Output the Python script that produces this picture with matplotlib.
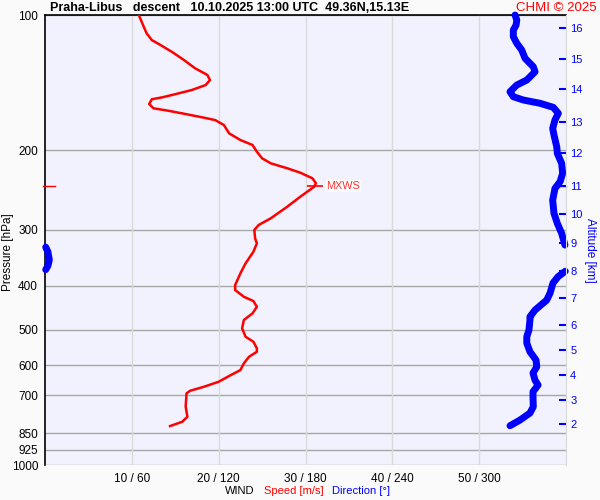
import numpy as np
import matplotlib
matplotlib.use('Agg')
import matplotlib.pyplot as plt
from matplotlib.ticker import NullLocator

plt.rcParams['font.family'] = ['Liberation Sans', 'DejaVu Sans']

# pressure axis ticks
p_ticks = [100, 200, 300, 400, 500, 600, 700, 850, 925, 1000]
p_labels = ['100', '200', '300', '400', '500', '600', '700', '850', '925', '1000']

# wind speed / direction ticks
speed_ticks = [10, 20, 30, 40, 50]
speed_labels = ['10 / 60', '20 / 120', '30 / 180', '40 / 240', '50 / 300']

# altitude (km) at pressure levels of this sounding
alt_km = [2, 3, 4, 5, 6, 7, 8, 9, 10, 11, 12, 13, 14, 15, 16]
alt_p = [810, 718, 631, 555, 489, 426, 371, 321, 277, 240, 203, 173, 146, 125, 107]

# wind speed profile
spd_p = [100, 104.3, 109.8, 113.7, 116.6, 120.7, 125.9, 131.4, 135.9, 139.5,
         143.1, 146.8, 149.3, 152.4, 153.9, 157.7, 161.2, 163.2, 166, 168.8,
         171.2, 175.6, 183.2, 189.6, 194.5, 201.3, 208.2, 213.6, 219.1, 224.1,
         230.6, 236.6, 240.8, 253.4, 266.7, 283, 292.9, 300.5, 313.6, 321.7,
         335.8, 356.3, 375.1, 398.2, 408.5, 422.8, 432.2, 445, 460.3, 476.3,
         497, 518.8, 532.2, 550.5, 560.2, 574.7, 594.5, 615.3, 631.2, 653.2,
         670.1, 684.1, 693.1, 742.3, 781.3, 801.6, 819.4]
spd = [10.8, 11.2, 11.7, 12.3, 13.3, 14.6, 16.0, 17.3, 18.7, 19.0,
       18.5, 16.9, 15.4, 13.5, 12.3, 12.0, 12.5, 14.2, 16.2, 18.1,
       19.6, 20.6, 21.2, 22.5, 23.9, 24.4, 25.0, 26.0, 27.9, 29.4,
       30.8, 31.2, 31.0, 29.4, 27.9, 26.0, 24.6, 24.1, 24.2, 24.4,
       24.0, 23.1, 22.5, 21.9, 21.9, 22.9, 24.0, 24.4, 23.9, 22.9,
       22.7, 23.1, 24.0, 24.4, 24.4, 23.5, 22.9, 22.5, 21.4, 20.0,
       18.3, 16.7, 16.3, 16.2, 16.4, 15.8, 14.4]

# wind direction profile (deg)
dir_p = [100, 102.6, 105.3, 108, 111.7, 115.6, 119.6, 124.8, 130.3, 133.7,
         139.5, 143.1, 148.1, 151.9, 154.5, 157.1, 160.4, 165.4, 171.1, 178.6,
         184.8, 196.2, 203, 213.6, 224.8, 234.7, 242.8, 257.8, 275.9, 290.4,
         305.6, 324.5, 328, 336, 350, 361, 368, 371, 381.6, 394.2,
         414.9, 430, 452.6, 468.3, 476.3, 501.3, 518.7, 535.8, 560.2, 584.5,
         604.9, 624.7, 647.6, 664.3, 687.4, 705, 742.3, 766.6, 794.6, 818]
wdir = [324.8, 326, 325.5, 323.6, 323.6, 326, 329.4, 331.7, 337.4, 338.6,
        332.9, 326, 321.3, 323.6, 330.5, 342, 351.2, 354.7, 352.4, 350.8,
        351.7, 353.6, 354, 357, 357.7, 355.9, 352.4, 350.8, 351.7, 354,
        357, 359.3, 0.5, 2, 3, 2, 0.5, 359.5, 354.5, 351,
        349, 346.7, 338.6, 335.1, 335.1, 334.4, 332.9, 332.9, 335.1, 339.3,
        339.8, 337.2, 338.6, 340.7, 337.2, 337.2, 337.4, 335.1, 328.2, 321.3]

mxws_p = 240
mxws_speed = 31.1

fig = plt.figure(figsize=(6, 5), dpi=100, facecolor='#fafafa')
ax = fig.add_axes([45 / 600, 35 / 500, 521 / 600, 450 / 500])
ax.set_facecolor('#f2f2fe')

ax.set_yscale('log')
ax.set_ylim(1000, 100)
ax.set_xlim(0, 60)
ax.set_yticks(p_ticks)
ax.set_yticklabels(p_labels)
ax.yaxis.set_minor_locator(NullLocator())
ax.set_xticks(speed_ticks)
ax.set_xticklabels(speed_labels)
ax.tick_params(axis='both', length=0, labelsize=8.5)
ax.tick_params(axis='x', pad=6)
ax.tick_params(axis='y', pad=5)

for p in p_ticks:
    ax.axhline(p, color='#a6a6a6', lw=1, zorder=1)
for s in speed_ticks:
    ax.axvline(s, color='#dadada', lw=1, zorder=1)

for side in ['bottom', 'right']:
    ax.spines[side].set_visible(False)
ax.spines['left'].set_color('black')
ax.spines['top'].set_color('black')
ax.spines['left'].set_linewidth(1.2)
ax.spines['top'].set_linewidth(1.2)

# speed
ax.plot(spd, spd_p, color='red', lw=1.8, zorder=4)

# max wind marker
ax.plot([mxws_speed], [mxws_p], marker='_', markersize=11, mew=1.2, color='red', zorder=5)
ax.annotate('MXWS', (mxws_speed, mxws_p), xytext=(8, 0), textcoords='offset points',
            color='#ff3030', fontsize=7.8, va='center', ha='left',
            bbox=dict(facecolor='white', edgecolor='none', pad=0.5))
ax.axhline(mxws_p, xmin=-0.004, xmax=0.02, color='red', lw=1, clip_on=False, zorder=5)
ax.axhline(mxws_p, xmin=0.981, xmax=1.0, color='red', lw=1, clip_on=False, zorder=5)

# direction on its own scale
axd = ax.twiny()
axd.set_xlim(0, 360)
axd.set_ylim(1000, 100)
axd.set_xticks([])
for side in axd.spines:
    axd.spines[side].set_visible(False)
segs = [[0]]
for i in range(1, len(wdir)):
    if abs(wdir[i] - wdir[i - 1]) > 180:
        segs.append([])
    segs[-1].append(i)
for seg in segs:
    axd.plot([wdir[i] for i in seg], [dir_p[i] for i in seg], color='#0000ff', lw=5,
             solid_capstyle='round', solid_joinstyle='round', clip_on=False, zorder=3)

# altitude axis
axa = ax.twinx()
axa.set_yscale('log')
axa.set_ylim(1000, 100)
axa.set_yticks(alt_p)
axa.set_yticklabels([str(a) for a in alt_km])
axa.yaxis.set_minor_locator(NullLocator())
axa.tick_params(axis='y', direction='in', length=5, width=1.5, colors='#0000ff',
                labelsize=8, pad=3)
for side in ['left', 'top', 'bottom']:
    axa.spines[side].set_visible(False)
axa.spines['right'].set_color('#d8d8d8')

fig.text(50 / 600, 1 - 8 / 500, 'Praha-Libus   descent   10.10.2025 13:00 UTC  49.36N,15.13E',
         fontsize=9, fontweight='bold', ha='left', va='center')
fig.text(597 / 600, 1 - 8 / 500, 'CHMI \u00a9 2025', color='red', fontsize=9.5,
         ha='right', va='center')
fig.text(8 / 600, 1 - 252 / 500, 'Pressure [hPa]', rotation=90, fontsize=8.5,
         ha='center', va='center')
fig.text(590 / 600, 1 - 250 / 500, 'Altitude [km]', rotation=270, fontsize=8.5,
         color='#0000ff', ha='center', va='center')
fig.text(225 / 600, 1 - 491 / 500, 'WIND', fontsize=8, ha='left', va='center')
fig.text(264 / 600, 1 - 491 / 500, 'Speed [m/s]', fontsize=8, color='red',
         ha='left', va='center')
fig.text(332 / 600, 1 - 491 / 500, 'Direction [\u00b0]', fontsize=8, color='#0000ff',
         ha='left', va='center')

fig.savefig('out.png', dpi=100, facecolor=fig.get_facecolor())
